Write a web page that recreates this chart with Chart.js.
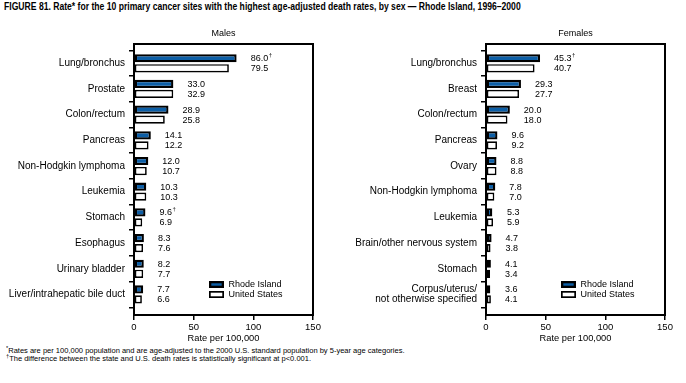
<!DOCTYPE html>
<html><head><meta charset="utf-8">
<script src="https://cdn.jsdelivr.net/npm/chart.js@4/dist/chart.umd.min.js"></script>
<style>
body{margin:0;background:#fff;width:686px;height:383px;position:relative;overflow:hidden;font-family:"Liberation Sans",Arial,sans-serif;color:#000}
#title{position:absolute;left:4px;top:1px;font-size:10px;line-height:12px;font-weight:bold;white-space:nowrap;transform:scaleX(0.86);transform-origin:0 0}
#c1{position:absolute;left:0;top:0}
#c2{position:absolute;left:340px;top:0}
.foot{position:absolute;left:6px;font-size:8px;line-height:9px;white-space:nowrap;transform:scaleX(0.94);transform-origin:0 0}
.foot sup{font-size:6px;vertical-align:3px;line-height:0}
</style></head><body>
<div id="title">FIGURE 81. Rate* for the 10 primary cancer sites with the highest age-adjusted death rates, by sex — Rhode Island, 1996–2000</div>
<canvas id="c1" width="340" height="345"></canvas>
<canvas id="c2" width="346" height="345"></canvas>
<div class="foot" style="top:346px"><sup>*</sup>Rates are per 100,000 population and are age-adjusted to the 2000 U.S. standard population by 5-year age categories.</div>
<div class="foot" style="top:354px"><sup>†</sup>The difference between the state and U.S. death rates is statistically significant at p&lt;0.001.</div>
<script>
const seriesNames = ["Rhode Island", "United States"];
const xTicks = [0, 50, 100, 150];
const axisTitle = "Rate per 100,000";

const maleSites = ["Lung/bronchus","Prostate","Colon/rectum","Pancreas","Non-Hodgkin lymphoma","Leukemia","Stomach","Esophagus","Urinary bladder","Liver/intrahepatic bile duct"];
const maleRI = [86.0, 33.0, 28.9, 14.1, 12.0, 10.3, 9.6, 8.3, 8.2, 7.7];
const maleUS = [79.5, 32.9, 25.8, 12.2, 10.7, 10.3, 6.9, 7.6, 7.7, 6.6];
const maleSig = [true, false, false, false, false, false, true, false, false, false];

const femaleSites = ["Lung/bronchus","Breast","Colon/rectum","Pancreas","Ovary","Non-Hodgkin lymphoma","Leukemia","Brain/other nervous system","Stomach",["Corpus/uterus/","not otherwise specified"]];
const femaleRI = [45.3, 29.3, 20.0, 9.6, 8.8, 7.8, 5.3, 4.7, 4.1, 3.6];
const femaleUS = [40.7, 27.7, 18.0, 9.2, 8.8, 7.0, 5.9, 3.8, 3.4, 4.1];
const femaleSig = [true, false, false, false, false, false, false, false, false, false];

const FONT = '"Liberation Sans", Arial, sans-serif';
const BLUE = '#0c5ea6';

const decor = {
  id: 'decor',
  afterDatasetsDraw(chart, args, opts) {
    const ctx = chart.ctx, a = chart.chartArea;
    ctx.save();
    ctx.strokeStyle = '#000'; ctx.lineWidth = 2;
    ctx.strokeRect(a.left, a.top, a.right - a.left, a.bottom - a.top);
    ctx.fillStyle = '#000';
    ctx.font = '9px ' + FONT; ctx.textAlign = 'center'; ctx.textBaseline = 'middle';
    ctx.fillText(opts.panel, (a.left + a.right) / 2, 34);
    // value labels
    const xs = chart.scales.x;
    const d0 = chart.data.datasets[0].data, d1 = chart.data.datasets[1].data;
    const m0 = chart.getDatasetMeta(0), m1 = chart.getDatasetMeta(1);
    ctx.textAlign = 'left';
    for (let i = 0; i < d0.length; i++) {
      const x = xs.getPixelForValue(Math.max(d0[i], d1[i])) + 14;
      ctx.font = '9px ' + FONT;
      const t0 = d0[i].toFixed(1);
      ctx.fillText(t0, x, m0.data[i].y + 0.5);
      if (opts.sig[i]) {
        const w = ctx.measureText(t0).width;
        ctx.font = '6px ' + FONT;
        ctx.fillText('†', x + w + 0.5, m0.data[i].y - 3);
        ctx.font = '9px ' + FONT;
      }
      ctx.fillText(d1[i].toFixed(1), x, m1.data[i].y + 0.5);
    }
    // legend
    const lx = a.right - 104;
    const ys = [a.bottom - 34, a.bottom - 24];
    chart.data.datasets.forEach((ds, k) => {
      const y = ys[k];
      ctx.fillStyle = '#000';
      ctx.fillRect(lx, y, 15, 7);
      ctx.fillStyle = ds.backgroundColor;
      const ins = ds.borderWidth;
      ctx.fillRect(lx + ins, y + ins, 15 - 2 * ins, 7 - 2 * ins);
      ctx.fillStyle = '#000';
      ctx.font = '9px ' + FONT; ctx.textBaseline = 'middle';
      ctx.fillText(ds.label, lx + 19.5, y + 3.5);
    });
    ctx.restore();
  }
};

function makeChart(id, panel, sites, ri, us, sig, yWidth) {
  return new Chart(document.getElementById(id), {
    type: 'bar',
    data: {
      labels: sites,
      datasets: [
        { label: seriesNames[0], data: ri, backgroundColor: BLUE, borderColor: '#000', borderWidth: 2.3, borderSkipped: false },
        { label: seriesNames[1], data: us, backgroundColor: '#fff', borderColor: '#000', borderWidth: 1.7, borderSkipped: false }
      ]
    },
    options: {
      indexAxis: 'y',
      responsive: false,
      animation: false,
      devicePixelRatio: 1,
      layout: { padding: { top: 44, right: id === 'c1' ? 27 : 21, bottom: 0, left: 0 } },
      categoryPercentage: 0.78,
      barPercentage: 0.82,
      plugins: { legend: { display: false }, tooltip: { enabled: false }, decor: { panel, sig } },
      scales: {
        x: {
          type: 'linear', min: 0, max: 150,
          afterBuildTicks: (s) => { s.ticks = xTicks.map(v => ({ value: v })); },
          afterFit: (s) => { s.height = 30; },
          border: { display: false },
          grid: { drawOnChartArea: false, drawTicks: true, tickLength: 5, color: '#000', lineWidth: 1.5 },
          ticks: { color: '#000', font: { family: FONT, size: 9.5 }, padding: 2, maxRotation: 0 },
          title: { display: true, text: axisTitle, color: '#000', font: { family: FONT, size: 9.3 }, padding: { top: 0, bottom: 1 } }
        },
        y: {
          type: 'category',
          afterBuildTicks: (s) => { s._startValue -= 0.25; s._valueRange += 0.55; },
          afterFit: (s) => { s.width = yWidth; },
          border: { display: false },
          grid: { drawOnChartArea: false, drawTicks: true, tickLength: 5, color: '#000', lineWidth: 1.5 },
          ticks: { color: '#000', font: { family: FONT, size: 10, lineHeight: 1.05 }, padding: 4, autoSkip: false }
        }
      }
    },
    plugins: [decor]
  });
}

makeChart('c1', 'Males', maleSites, maleRI, maleUS, maleSig, 134);
makeChart('c2', 'Females', femaleSites, femaleRI, femaleUS, femaleSig, 146);
</script>
</body></html>
